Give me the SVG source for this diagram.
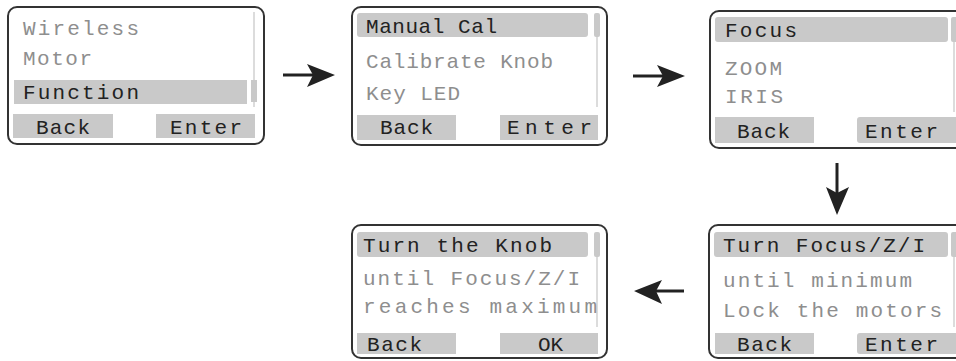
<svg xmlns="http://www.w3.org/2000/svg" width="956" height="361" viewBox="0 0 956 361">
<defs>
<style>
.frame{fill:#fff;stroke:#333;stroke-width:2}
.bar{fill:#c9c9c9}
.sb{stroke:#d0d0d0;stroke-width:1.5}
.thumb{fill:#c9c9c9}
.t{font-family:"Liberation Mono","DejaVu Sans Mono",monospace;font-size:21px}
.dk{fill:#222}
.gr{fill:#8e8e8e}
.conn{stroke:#222;stroke-width:3;fill:none}
.head{fill:#222}
</style>
</defs>
<rect width="956" height="361" fill="#fff"/>

<g id="node-main-menu">
<rect class="frame" x="8" y="7" width="256" height="137" rx="9"/>
<line class="sb" x1="254" y1="12" x2="254" y2="107"/>
<rect class="thumb" x="251" y="80" width="6" height="22"/>
<rect class="bar" x="14" y="80" width="233" height="24"/>
<text class="t gr" x="23" y="35" textLength="116" lengthAdjust="spacing">Wireless</text>
<text class="t gr" x="23" y="65" textLength="69" lengthAdjust="spacing">Motor</text>
<text class="t dk" x="23" y="99" textLength="116" lengthAdjust="spacing">Function</text>
<rect class="bar" x="13" y="114" width="100" height="24"/>
<rect class="bar" x="156" y="114" width="99" height="24"/>
<text class="t dk" x="36" y="134" textLength="54" lengthAdjust="spacing">Back</text>
<text class="t dk" x="170" y="134" textLength="72" lengthAdjust="spacing">Enter</text>
</g>

<g id="node-manual-cal">
<rect class="frame" x="352" y="7" width="255" height="138" rx="9"/>
<line class="sb" x1="597" y1="13" x2="597" y2="107"/>
<rect class="thumb" x="594" y="13" width="6" height="24" rx="2"/>
<rect class="bar" x="357" y="13" width="231" height="24" rx="3"/>
<text class="t dk" x="366" y="33" textLength="131" lengthAdjust="spacing">Manual Cal</text>
<text class="t gr" x="366" y="68" textLength="187" lengthAdjust="spacing">Calibrate Knob</text>
<text class="t gr" x="366" y="100" textLength="94" lengthAdjust="spacing">Key LED</text>
<rect class="bar" x="357" y="115" width="99" height="25"/>
<rect class="bar" x="500" y="115" width="98" height="25"/>
<text class="t dk" x="380" y="134" textLength="53" lengthAdjust="spacing">Back</text>
<text class="t dk" x="507" y="134" textLength="85" lengthAdjust="spacing">Enter</text>
</g>

<g id="node-focus">
<rect class="frame" x="710" y="11" width="270" height="137" rx="9"/>
<line class="sb" x1="954" y1="17" x2="954" y2="112"/>
<rect class="thumb" x="951" y="17" width="8" height="25" rx="2"/>
<rect class="bar" x="715" y="17" width="233" height="25" rx="3"/>
<text class="t dk" x="725" y="37" textLength="72" lengthAdjust="spacing">Focus</text>
<text class="t gr" x="725" y="75" textLength="57" lengthAdjust="spacing">ZOOM</text>
<text class="t gr" x="725" y="103" textLength="58" lengthAdjust="spacing">IRIS</text>
<rect class="bar" x="715" y="117" width="99" height="26"/>
<rect class="bar" x="857" y="117" width="110" height="26" rx="3"/>
<text class="t dk" x="737" y="138" textLength="53" lengthAdjust="spacing">Back</text>
<text class="t dk" x="865" y="138" textLength="73" lengthAdjust="spacing">Enter</text>
</g>

<g id="node-turn-focus">
<rect class="frame" x="709" y="225" width="270" height="133" rx="9"/>
<line class="sb" x1="954" y1="232" x2="954" y2="327"/>
<rect class="thumb" x="951" y="232" width="8" height="25" rx="2"/>
<rect class="bar" x="714" y="232" width="234" height="25" rx="3"/>
<text class="t dk" x="723" y="252" textLength="202" lengthAdjust="spacing">Turn Focus/Z/I</text>
<text class="t gr" x="723" y="287" textLength="189" lengthAdjust="spacing">until minimum</text>
<text class="t gr" x="723" y="317" textLength="219" lengthAdjust="spacing">Lock the motors</text>
<rect class="bar" x="715" y="333" width="99" height="21"/>
<rect class="bar" x="857" y="333" width="110" height="21" rx="3"/>
<text class="t dk" x="737" y="351" textLength="55" lengthAdjust="spacing">Back</text>
<text class="t dk" x="865" y="351" textLength="73" lengthAdjust="spacing">Enter</text>
</g>

<g id="node-turn-knob">
<rect class="frame" x="352" y="225" width="255" height="133" rx="9"/>
<line class="sb" x1="597" y1="232" x2="597" y2="327"/>
<rect class="thumb" x="594" y="232" width="6" height="25" rx="2"/>
<rect class="bar" x="357" y="232" width="231" height="25" rx="3"/>
<text class="t dk" x="363" y="252" textLength="189" lengthAdjust="spacing">Turn the Knob</text>
<text class="t gr" x="363" y="285" textLength="217" lengthAdjust="spacing">until Focus/Z/I</text>
<text class="t gr" x="363" y="313" textLength="234" lengthAdjust="spacing">reaches maximum</text>
<rect class="bar" x="357" y="333" width="99" height="21"/>
<rect class="bar" x="500" y="333" width="98" height="21"/>
<text class="t dk" x="367" y="351" textLength="55" lengthAdjust="spacing">Back</text>
<text class="t dk" x="538" y="351">OK</text>
</g>

<g id="connectors">
<line class="conn" x1="283" y1="75" x2="315" y2="75"/>
<polygon class="head" points="335,75 307,64 313,75 307,87"/>
<line class="conn" x1="633" y1="76" x2="665" y2="76"/>
<polygon class="head" points="685,76 657,65 663,76 657,87"/>
<line class="conn" x1="837" y1="163" x2="837" y2="195"/>
<polygon class="head" points="837,215 826,187 837,193 849,187"/>
<line class="conn" x1="684" y1="291" x2="655" y2="291"/>
<polygon class="head" points="634,291 662,280 656,291 662,304"/>
</g>
</svg>
